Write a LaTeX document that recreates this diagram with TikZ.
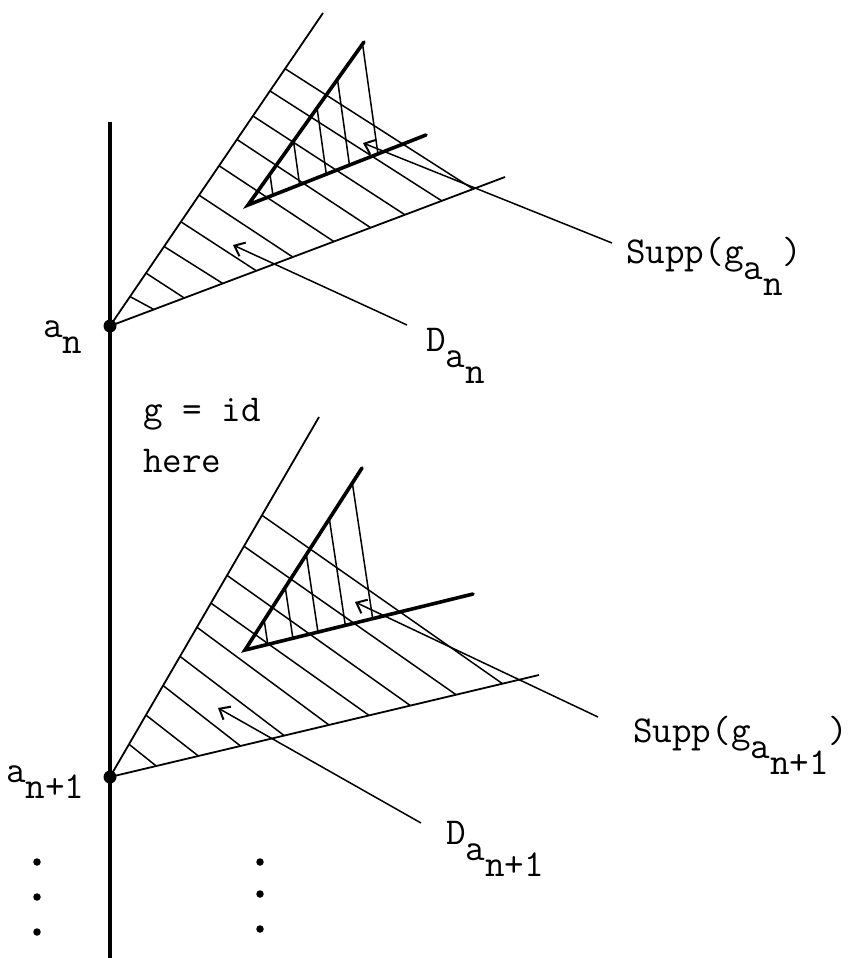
\documentclass[tikz,border=0pt]{standalone}
\usetikzlibrary{arrows.meta,calc}
\newcommand\lowered[1]{\raisebox{-16pt}{#1}}

\begin{document}
\begin{tikzpicture}[
    x=1pt,
    y=-1pt,
    font=\ttfamily\fontsize{38}{40}\selectfont,
    axisline/.style={line width=3.8pt},
    ray/.style={line width=1.8pt},
    support/.style={line width=3.6pt,line cap=round},
    hatch/.style={line width=1.5pt},
    leader/.style={{Straight Barb[length=9pt,width=15pt,line width=2pt]}-,line width=1.5pt},
    point/.style={circle,fill=black,minimum size=13pt,inner sep=0pt},
    tag/.style={anchor=base west,inner sep=0pt},
    vdot/.style={circle,fill=black,minimum size=7.5pt,inner sep=0pt}
  ]
  \useasboundingbox (0,0) rectangle (851,958);

  % vertical axis
  \draw[axisline] (110,122) -- (110,958);

  % upper cone D_{a_n}
  \coordinate (an) at (110,326);
  \coordinate (upA) at (323,13);
  \coordinate (loA) at (505,177);
  \draw[ray] (upA) -- (an) -- (loA);
  \foreach \t/\s [count=\i] in {0.094/0.54,0.169/0.65,0.254/0.63,0.333/0.65,0.418/0.66,
                                0.512/0.66,0.596/0.66,0.671/0.65,0.751/0.64,0.822/0.64} {
    \coordinate (hA\i) at ($(an)!\t!(upA)$);
    \coordinate (dA\i) at ($(hA\i)+(100,100*\s)$);
    \draw[hatch] (hA\i) -- (intersection cs:first line={(hA\i)--(dA\i)},second line={(an)--(loA)});
  }

  % upper support triangle
  \coordinate (inA) at (248,205);
  \coordinate (inUA) at (364,42);
  \coordinate (inLA) at (426,135);
  \draw[support] (inUA) -- (inA) -- (inLA);
  \foreach \t [count=\i] in {0.14,0.29,0.44,0.57,0.73} {
    \coordinate (kA\i) at ($(inA)!\t!(inLA)$);
    \coordinate (eA\i) at ($(kA\i)+(-14,-100)$);
    \draw[hatch] (kA\i) -- (intersection cs:first line={(kA\i)--(eA\i)},second line={(inA)--(inUA)});
  }

  % lower cone D_{a_{n+1}}
  \coordinate (am) at (110,777);
  \coordinate (upB) at (319,417);
  \coordinate (loB) at (539,675);
  \draw[ray] (upB) -- (am) -- (loB);
  \foreach \t/\s [count=\i] in {0.091/0.80,0.172/0.78,0.254/0.78,0.335/0.76,0.416/0.74,
                                0.483/0.71,0.560/0.71,0.641/0.70,0.727/0.70} {
    \coordinate (hB\i) at ($(am)!\t!(upB)$);
    \coordinate (dB\i) at ($(hB\i)+(100,100*\s)$);
    \draw[hatch] (hB\i) -- (intersection cs:first line={(hB\i)--(dB\i)},second line={(am)--(loB)});
  }

  % lower support triangle
  \coordinate (inB) at (245,650);
  \coordinate (inUB) at (362,468);
  \coordinate (inLB) at (473,594);
  \draw[support] (inUB) -- (inB) -- (inLB);
  \foreach \t [count=\i] in {0.10,0.21,0.32,0.44,0.56} {
    \coordinate (kB\i) at ($(inB)!\t!(inLB)$);
    \coordinate (eB\i) at ($(kB\i)+(-15,-100)$);
    \draw[hatch] (kB\i) -- (intersection cs:first line={(kB\i)--(eB\i)},second line={(inB)--(inUB)});
  }

  % base points
  \node[point] (andot) at (an) {};
  \node[point] (amdot) at (am) {};
  \node[tag] (anlabel) at (43,337) {a\lowered{n}};
  \node[tag] (amlabel) at (6,782) {a\lowered{n+1}};

  \node[tag] (gid) at (143,421) {g = id};
  \node[tag] (here) at (143,472) {here};

  % labels with leaders
  \node[tag] (suppA) at (626,263) {Supp(g\lowered{a\lowered{n}})};
  \node[tag] (domA) at (426,351) {D\lowered{a\lowered{n}}};
  \node[tag] (suppB) at (633,742) {Supp(g\lowered{a\lowered{n+1}})};
  \node[tag] (domB) at (446,844) {D\lowered{a\lowered{n+1}}};

  \coordinate (tipSA) at (363,143);
  \coordinate (tipDA) at (233,245);
  \coordinate (tipSB) at (355,602);
  \coordinate (tipDB) at (218,708);
  \draw[leader] (tipSA) -- ([xshift=-14pt,yshift=20pt]suppA.base west);
  \draw[leader] (tipDA) -- ([xshift=-19pt,yshift=26pt]domA.base west);
  \draw[leader] (tipSB) -- ([xshift=-35pt,yshift=25pt]suppB.base west);
  \draw[leader] (tipDB) -- ([xshift=-25pt,yshift=21pt]domB.base west);

  % continuation dots
  \foreach \y in {862,897,932} {
    \node[vdot] (left\y) at (37,\y) {};
  }
  \foreach \y in {862,894,929} {
    \node[vdot] (mid\y) at (260,\y) {};
  }
\end{tikzpicture}
\end{document}
